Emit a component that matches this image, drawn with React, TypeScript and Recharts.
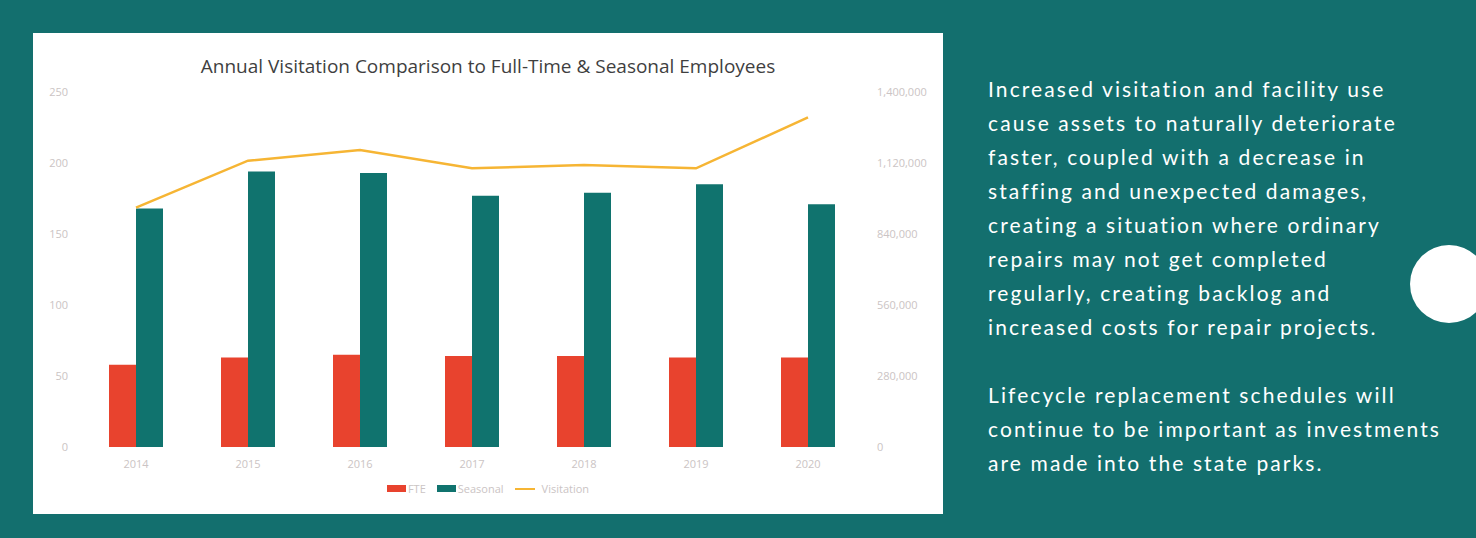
import { ComposedChart, Bar, Line, XAxis, YAxis, Legend } from 'recharts'

const years = ['2014', '2015', '2016', '2017', '2018', '2019', '2020']
const fte = [58, 63, 65, 64, 64, 63, 63]
const seasonal = [168, 194, 193, 177, 179, 185, 171]
const visitation = [944000, 1129000, 1171000, 1099000, 1112000, 1099000, 1300000]

const leftTicks = [0, 50, 100, 150, 200, 250]
const rightTicks = [0, 280000, 560000, 840000, 1120000, 1400000]

const paragraph1 = [
  'Increased visitation and facility use',
  'cause assets to naturally deteriorate',
  'faster, coupled with a decrease in',
  'staffing and unexpected damages,',
  'creating a situation where ordinary',
  'repairs may not get completed',
  'regularly, creating backlog and',
  'increased costs for repair projects.',
]
const paragraph2 = [
  'Lifecycle replacement schedules will',
  'continue to be important as investments',
  'are made into the state parks.',
]

const data = years.map((y, i) => ({
  year: y,
  FTE: fte[i],
  Seasonal: seasonal[i],
  Visitation: visitation[i],
}))

const BG = '#136f6e'
const RED = '#e8432e'
const TEAL = '#10736e'
const ORANGE = '#f6b534'
const TICK = '#cbc4c4'
const chartFont = '"Open Sans", "Noto Sans", sans-serif'

function LegendItems(props: any) {
  const items = props.payload || []
  return (
    <div style={{ display: 'flex', justifyContent: 'center', gap: 11, fontFamily: chartFont, fontSize: 11, color: TICK }}>
      {items.map((it: any) => (
        <div key={it.value} style={{ display: 'flex', alignItems: 'center', gap: 2 }}>
          {it.type === 'rect' ? (
            <div style={{ width: 19, height: 7, background: it.color }} />
          ) : (
            <div style={{ width: 20, height: 2, background: it.color, marginRight: 5 }} />
          )}
          <span>{it.value}</span>
        </div>
      ))}
    </div>
  )
}

export default function App() {
  return (
    <div style={{ position: 'fixed', left: 0, top: 0, width: 1476, height: 538, background: BG, overflow: 'hidden' }}>
      <div style={{ position: 'absolute', left: 33, top: 33, width: 910, height: 481, background: '#ffffff' }}>
        <div
          style={{
            position: 'absolute',
            left: 0,
            top: 20,
            width: 910,
            textAlign: 'center',
            fontFamily: chartFont,
            fontSize: 19,
            color: '#3f3f3f',
          }}
        >
          Annual Visitation Comparison to Full-Time &amp; Seasonal Employees
        </div>
        <ComposedChart
          width={910}
          height={481}
          data={data}
          margin={{ top: 59, right: 0, bottom: 37, left: 0 }}
          barGap={0}
          style={{ position: 'absolute', left: 0, top: 0 }}
        >
          <XAxis
            dataKey="year"
            axisLine={false}
            tickLine={false}
            tickSize={0}
            tickMargin={13}
            height={30}
            tick={{ fill: TICK, fontSize: 11, fontFamily: chartFont }}
          />
          <YAxis
            yAxisId="left"
            domain={[0, 250]}
            ticks={leftTicks}
            width={47}
            axisLine={false}
            tickLine={false}
            tickSize={0}
            tickMargin={12}
            tick={{ fill: TICK, fontSize: 11, fontFamily: chartFont }}
          />
          <YAxis
            yAxisId="right"
            orientation="right"
            domain={[0, 1400000]}
            ticks={rightTicks}
            width={79}
            axisLine={false}
            tickLine={false}
            tickSize={0}
            tickMargin={13}
            tickFormatter={(v: number) => v.toLocaleString('en-US')}
            tick={{ fill: TICK, fontSize: 11, fontFamily: chartFont, textAnchor: 'start' }}
          />
          <Bar yAxisId="left" dataKey="FTE" fill={RED} barSize={27} isAnimationActive={false} legendType="rect" />
          <Bar yAxisId="left" dataKey="Seasonal" fill={TEAL} barSize={27} isAnimationActive={false} legendType="rect" />
          <Line
            yAxisId="right"
            dataKey="Visitation"
            stroke={ORANGE}
            strokeWidth={2.5}
            dot={false}
            type="linear"
            isAnimationActive={false}
            legendType="plainline"
          />
          <Legend
            verticalAlign="middle"
            align="center"
            layout="horizontal"
            content={LegendItems}
            wrapperStyle={{ top: 448, left: 0, width: 910 }}
          />
        </ComposedChart>
      </div>
      <div
        style={{
          position: 'absolute',
          left: 988,
          top: 72,
          fontFamily: 'Lato, sans-serif',
          fontSize: 21,
          lineHeight: '34px',
          letterSpacing: 2.1,
          color: '#ffffff',
          whiteSpace: 'nowrap',
        }}
      >
        {paragraph1.map((l) => (
          <div key={l}>{l}</div>
        ))}
        <div style={{ height: 34 }} />
        {paragraph2.map((l) => (
          <div key={l}>{l}</div>
        ))}
      </div>
      <div
        style={{
          position: 'absolute',
          left: 1410,
          top: 245,
          width: 78,
          height: 78,
          borderRadius: '50%',
          background: '#ffffff',
        }}
      />
    </div>
  )
}
